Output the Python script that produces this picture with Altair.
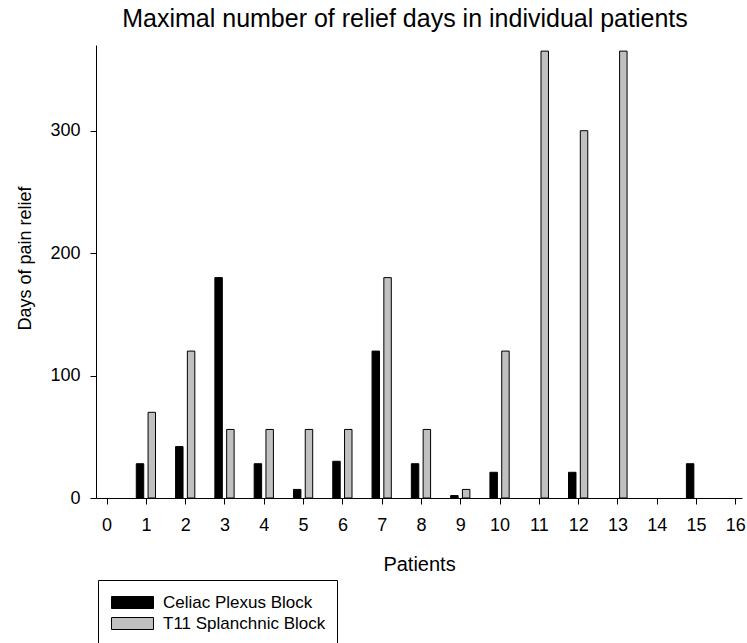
import altair as alt
import pandas as pd

patients = list(range(1, 16))
celiac = [28, 42, 180, 28, 7, 30, 120, 28, 2, 21, 0, 21, 0, 0, 28]
t11 = [70, 120, 56, 56, 56, 56, 180, 56, 7, 120, 365, 300, 365, 0, 0]
series = ["Celiac Plexus Block", "T11 Splanchnic Block"]
offsets = [-0.15, 0.15]
x_ticks = list(range(0, 17))
y_ticks = [0, 100, 200, 300]

rows = []
for s, off, vals in zip(series, offsets, [celiac, t11]):
    for p, v in zip(patients, vals):
        if v > 0:
            rows.append({"patient": p, "days": v, "series": s, "offset": off})
df = pd.DataFrame(rows)

font = "Liberation Sans"

bars = alt.Chart(df).transform_calculate(
    x1="datum.patient + datum.offset - 0.095",
    x2="datum.patient + datum.offset + 0.095",
    base="0",
).mark_bar(stroke="black", strokeWidth=1).encode(
    x=alt.X("x1:Q", scale=alt.Scale(domain=[-0.27, 16.17], nice=False, zero=False),
            axis=alt.Axis(values=x_ticks, title="Patients", grid=False, tickSize=6,
                          labelPadding=12, titlePadding=20, format="d",
                          titleFontSize=20)),
    x2="x2:Q",
    y=alt.Y("days:Q", scale=alt.Scale(domain=[0, 370], nice=False),
            axis=alt.Axis(values=y_ticks, title="Days of pain relief", grid=False,
                          tickSize=6, labelPadding=10, titlePadding=15,
                          titleFontSize=18, titleY=213)),
    y2="base:Q",
    color=alt.Color("series:N", scale=alt.Scale(domain=series, range=["black", "#c0c0c0"]),
                    legend=alt.Legend(title=" ", titleFontSize=3, titlePadding=0,
                                      orient="none", legendX=2, legendY=535,
                                      symbolType="M-1,-1H6V1H-1Z", symbolSize=144,
                                      symbolStrokeColor="black", symbolStrokeWidth=1,
                                      labelOffset=37, labelFontSize=17, labelFont=font,
                                      labelLimit=400,
                                      labelColor="black", padding=11, rowPadding=3,
                                      strokeColor="black", fillColor="white")),
)

chart = bars.properties(
    width=646, height=453,
    title=alt.TitleParams("Maximal number of relief days in individual patients",
                          fontSize=25, font=font, fontWeight="normal", offset=13,
                          color="black", anchor="middle", dx=-14),
    padding={"left": 96, "top": 45, "right": 5, "bottom": 145},
    autosize=alt.AutoSizeParams(type="none"),
).configure_view(strokeWidth=0).configure_axis(
    domainColor="black", tickColor="black", labelColor="black", titleColor="black",
    labelFont=font, titleFont=font, labelFontSize=18,
    titleFontWeight="normal",
)

chart.save("out.html", embed_options={"renderer": "svg", "actions": False})
